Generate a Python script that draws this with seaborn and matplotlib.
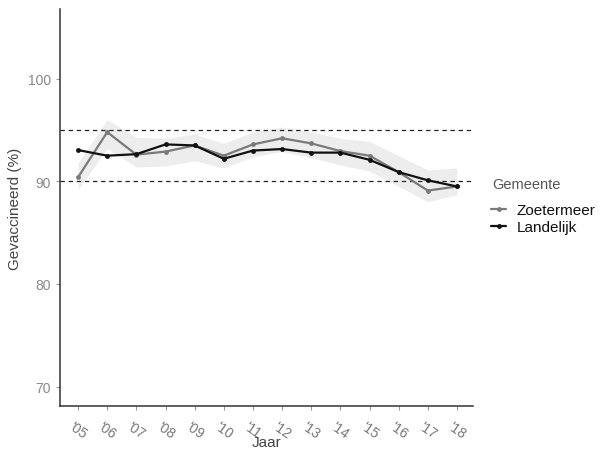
import matplotlib
matplotlib.use("Agg")
import matplotlib.pyplot as plt
import seaborn as sns
import pandas as pd

years = list(range(2005, 2019))
tick_labels = ["'05", "'06", "'07", "'08", "'09", "'10", "'11", "'12", "'13", "'14", "'15", "'16", "'17", "'18"]
zoetermeer = [90.4, 94.8, 92.6, 92.9, 93.5, 92.5, 93.6, 94.2, 93.7, 92.95, 92.5, 90.9, 89.1, 89.5]
landelijk = [93.05, 92.5, 92.65, 93.6, 93.5, 92.2, 93.0, 93.15, 92.8, 92.8, 92.1, 90.9, 90.1, 89.5]
band_upper = [91.8, 96.0, 94.3, 94.2, 94.6, 93.7, 94.8, 95.3, 94.8, 94.2, 93.9, 92.5, 91.1, 91.3]
band_lower = [89.2, 93.2, 91.4, 91.5, 92.0, 91.3, 92.4, 92.9, 92.3, 91.6, 91.0, 89.5, 88.0, 88.7]
y_ticks = [70, 80, 90, 100]
ref_lines = [90, 95]

df = pd.DataFrame({
    "Jaar": years * 2,
    "Gevaccineerd": zoetermeer + landelijk,
    "Gemeente": ["Zoetermeer"] * len(years) + ["Landelijk"] * len(years),
})

sns.set_theme(style="white")
plt.rcParams['font.family'] = ['Liberation Sans', 'DejaVu Sans']

fig = plt.figure(figsize=(6.02, 4.52), dpi=100)
ax = fig.add_axes([60/602, 1-407/452, (473-60)/602, (407-10)/452])

ax.fill_between(years, band_lower, band_upper, color="#ebebeb", alpha=0.9, linewidth=0, zorder=1)
for r in ref_lines:
    ax.axhline(r, color="#222222", linestyle=(0, (3.5, 3)), linewidth=0.9, zorder=2)

sns.lineplot(data=df, x="Jaar", y="Gevaccineerd", hue="Gemeente",
             palette={"Zoetermeer": "#7a7a7a", "Landelijk": "#111111"},
             marker="o", markersize=3.5, markeredgewidth=0, linewidth=1.6,
             ax=ax, zorder=3)

ax.set_xlim(2004.38, 2018.55)
ax.set_ylim(68.1, 106.8)
ax.set_yticks(y_ticks)
ax.set_xticks(years)
ax.set_xticklabels(tick_labels, rotation=-35, ha="center", va="top")
ax.tick_params(axis="both", colors="#999999", labelsize=10, length=3, width=0.8, bottom=True, left=True)
ax.tick_params(axis="x", labelcolor="#777777", pad=6)
ax.tick_params(axis="y", labelcolor="#888888")
for s in ["top", "right"]:
    ax.spines[s].set_visible(False)
for s in ["left", "bottom"]:
    ax.spines[s].set_color("#333333")
    ax.spines[s].set_linewidth(1.1)

ax.set_xlabel("Jaar", fontsize=11, color="#444444", labelpad=-4)
ax.set_ylabel("Gevaccineerd (%)", fontsize=11, color="#444444")

handles, labels = ax.get_legend_handles_labels()
ax.get_legend().remove()
fig.text(492/602, 1-185/452, "Gemeente", fontsize=10.5, color="#555555", ha="left", va="center")
leg = fig.legend(handles, labels, loc="upper left",
                 bbox_to_anchor=(491/602, 1-204/452), frameon=False, fontsize=11,
                 handlelength=1.0, handletextpad=0.7, borderpad=0, borderaxespad=0,
                 labelspacing=0.2)
for t in leg.get_texts():
    t.set_color("#111111")

fig.savefig("out.png", dpi=100)
